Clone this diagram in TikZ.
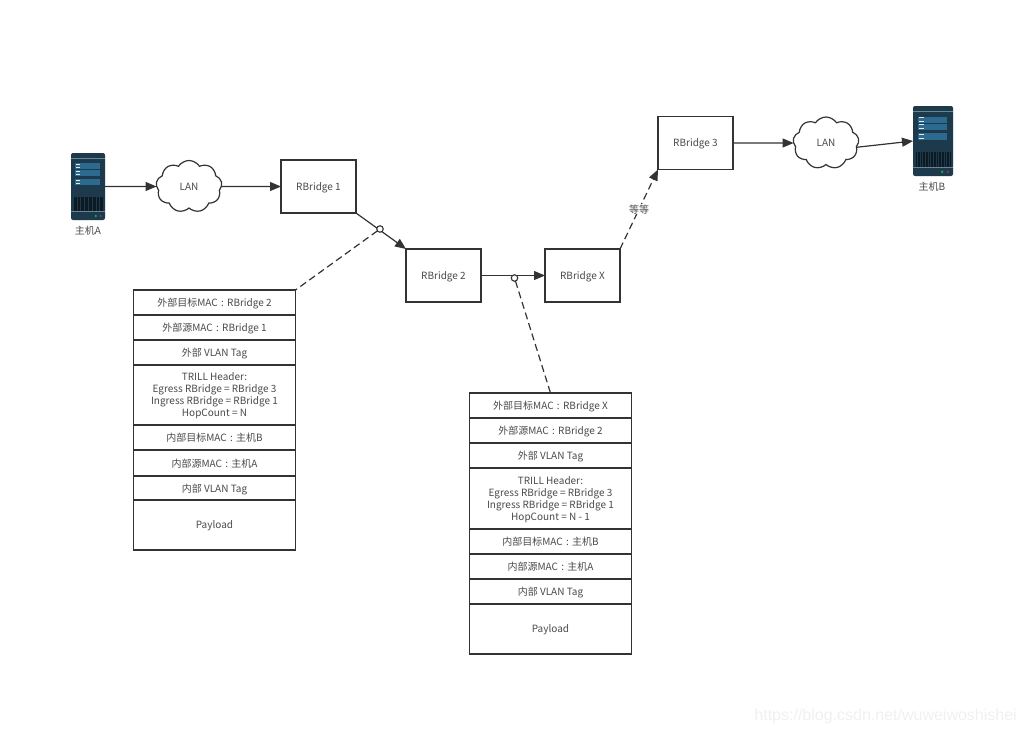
\documentclass[tikz,border=0pt]{standalone}
\usepackage{fontspec}
\setmainfont{Noto Sans CJK SC}
\newfontfamily\markfont{Liberation Sans}
\usepackage{xcolor}
\definecolor{linecolor}{HTML}{333333}
\definecolor{textcolor}{HTML}{4A4A4A}
\definecolor{serverbody}{HTML}{1D3A4C}
\definecolor{serverbar}{HTML}{2D6A8F}
\definecolor{serverline}{HTML}{6B8592}
\definecolor{serverdark}{HTML}{0D1A23}
\usetikzlibrary{arrows.meta, shapes.symbols}
\tikzset{
  bridgebox/.style={draw=linecolor, line width=1.2pt, fill=white, minimum width=75pt, minimum height=53pt, text=textcolor, text depth=0pt, outer sep=0pt},
  cell/.style={draw=linecolor, line width=1.2pt, fill=white, minimum width=162pt, text=textcolor, text depth=0pt, align=center, inner sep=0pt, outer sep=0pt},
  lancloud/.style={cloud, cloud puffs=9, cloud puff arc=115, draw=linecolor, line width=1.2pt, fill=white, minimum width=66pt, minimum height=52pt, inner sep=0pt, outer sep=0pt, text=textcolor},
  serverbox/.style={fill=serverbody, rounded corners=2pt, inner sep=0pt, outer sep=0pt},
  hostlabel/.style={text=textcolor},
  link/.style={draw=linecolor, line width=1.2pt, -{Triangle[length=11pt, width=9pt]}},
  tapline/.style={draw=linecolor, line width=1.2pt, dash pattern=on 7pt off 4pt},
  tap/.style={circle, draw=linecolor, line width=1.1pt, fill=white, minimum size=6.5pt, inner sep=0pt, outer sep=0pt}
}
% details on the server front, in percent of its size
\newcommand{\serverdetail}[3]{
  \begin{scope}[shift={(#1.center)}, x=#2pt, y=#3pt]
    \draw[serverline, line width=1pt] (-50,-42.5) -- (50,-42.5);
    \draw[serverline, line width=1pt] (-50,38) -- (50,38);
    \fill[serverbar] (-38,-35) rectangle (35,-26);
    \fill[serverbar] (-38,-25) rectangle (35,-16);
    \fill[serverbar] (-38,-11) rectangle (35,-2);
    \foreach \y in {-33,-28,-23,-18,-9,-4} {
      \fill[white!85!serverbar] (-34,\y-0.8) rectangle (-23,\y+0.8);
    }
    \foreach \x in {-42,-38,...,42} {
      \fill[serverdark] (\x,16) rectangle (\x+2.4,37);
    }
    \fill[green!50!serverbar] (23,44) circle [x radius=3, y radius=2];
    \fill[red!45!serverbar] (37,44) circle [x radius=3, y radius=2];
  \end{scope}
}

\begin{document}
\begin{tikzpicture}[x=1pt, y=-1pt, font=\fontsize{10}{12}\selectfont]
  \useasboundingbox (0,0) rectangle (1025,734);

  % Hosts
  \node[serverbox, minimum width=34pt, minimum height=67pt] (hosta) at (88,186.5) {};
  \serverdetail{hosta}{0.34}{-0.67}
  \node[hostlabel] (hostalabel) at (88,231) {主机A};
  \node[serverbox, minimum width=40pt, minimum height=70pt] (hostb) at (933,141) {};
  \serverdetail{hostb}{0.40}{-0.70}
  \node[hostlabel] (hostblabel) at (932,187) {主机B};

  % LAN clouds
  \node[lancloud] (lana) at (189,186.5) {LAN};
  \node[lancloud] (lanb) at (826,143) {LAN};

  % RBridges
  \node[bridgebox] (rbridgea) at (318.5,186.5) {RBridge 1};
  \node[bridgebox] (rbridgeb) at (443.5,275.5) {RBridge 2};
  \node[bridgebox] (rbridgex) at (582.5,275.5) {RBridge X};
  \node[bridgebox] (rbridgec) at (695.5,143) {RBridge 3};

  % First frame
  \node[cell, minimum height=25pt] (firsta) at (214.5,302.5) {外部目标MAC\,\,:\,\,RBridge 2};
  \node[cell, minimum height=25pt] (firstb) at (214.5,327.5) {外部源MAC\,\,:\,\,RBridge 1};
  \node[cell, minimum height=25pt] (firstc) at (214.5,352.5) {外部 VLAN Tag};
  \node[cell, minimum height=60pt] (firstd) at (214.5,395) {TRILL Header:\\Egress RBridge = RBridge 3\\Ingress RBridge = RBridge 1\\HopCount = N};
  \node[cell, minimum height=25pt] (firste) at (214.5,437.5) {内部目标MAC\,\,:\,\,主机B};
  \node[cell, minimum height=26pt] (firstf) at (214.5,463) {内部源MAC\,\,:\,\,主机A};
  \node[cell, minimum height=24pt] (firstg) at (214.5,488) {内部 VLAN Tag};
  \node[cell, minimum height=50pt] (firsth) at (214.5,525) {Payload};

  % Second frame
  \node[cell, minimum height=25pt] (seconda) at (550.5,405.5) {外部目标MAC\,\,:\,\,RBridge X};
  \node[cell, minimum height=25pt] (secondb) at (550.5,430.5) {外部源MAC\,\,:\,\,RBridge 2};
  \node[cell, minimum height=25pt] (secondc) at (550.5,455.5) {外部 VLAN Tag};
  \node[cell, minimum height=61pt] (secondd) at (550.5,498.5) {TRILL Header:\\Egress RBridge = RBridge 3\\Ingress RBridge = RBridge 1\\HopCount = N - 1};
  \node[cell, minimum height=25pt] (seconde) at (550.5,541.5) {内部目标MAC\,\,:\,\,主机B};
  \node[cell, minimum height=25pt] (secondf) at (550.5,566.5) {内部源MAC\,\,:\,\,主机A};
  \node[cell, minimum height=25pt] (secondg) at (550.5,591.5) {内部 VLAN Tag};
  \node[cell, minimum height=50pt] (secondh) at (550.5,629) {Payload};

  % Links
  \draw[link] (hosta.east) -- (lana.west);
  \draw[link] (lana.east) -- (rbridgea.west);
  \draw[link] (rbridgea.south east) -- (rbridgeb.north west);
  \draw[link] (rbridgeb.east) -- (rbridgex.west);
  \draw[link, dash pattern=on 7pt off 4pt] (rbridgex.north east) -- node[fill=white, inner sep=0.5pt, text=textcolor] (etc) {等等} (rbridgec.south west);
  \draw[link] (rbridgec.east) -- (lanb.west);
  \draw[link] (lanb.-8) -- (hostb.west);

  % Tap points
  \node[tap] (tapa) at (380,229) {};
  \node[tap] (tapb) at (514.5,278) {};
  \draw[tapline] (tapa) -- (firsta.north east);
  \draw[tapline] (tapb) -- (seconda.north);

  % Watermark
  \node[text=black!6, font=\markfont\fontsize{16}{18}\selectfont, anchor=east, inner sep=0pt] (mark) at (1017,716) {https://blog.csdn.net/wuweiwoshishei};
\end{tikzpicture}
\end{document}
